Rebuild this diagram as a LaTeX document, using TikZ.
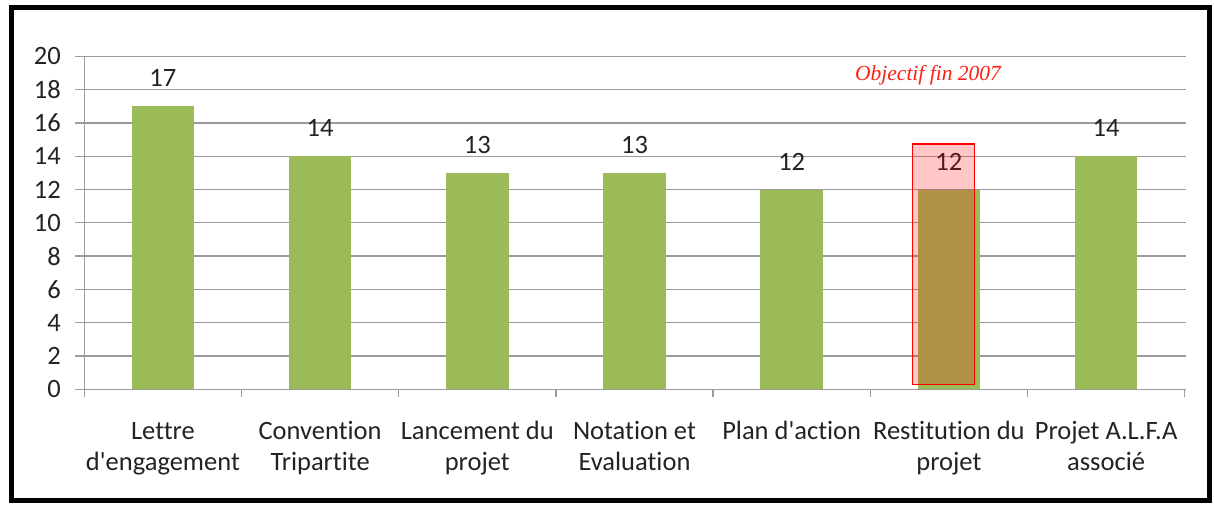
\documentclass[tikz,border=0pt]{standalone}
\usepackage{fontspec}
\setmainfont{Carlito}[Ligatures={TeXOff,NoCommon}]
\newfontfamily\tnr{Liberation Serif}
\definecolor{bargreen}{RGB}{155,187,89}
\definecolor{gridgray}{RGB}{155,155,155}
\definecolor{txt}{RGB}{35,35,35}
\definecolor{objred}{RGB}{255,30,20}
\begin{document}
\begin{tikzpicture}[x=1pt,y=-1pt,
  gridline/.style={draw=gridgray,line width=1.3pt},
  barfill/.style={fill=bargreen,draw=none},
  lab/.style={font=\fontsize{26.5}{31.6}\selectfont,text=txt,inner sep=0pt},
  catlab/.style={lab,align=center,anchor=base},
  frame/.style={draw=black,line width=5pt}]
\useasboundingbox (0,0) rectangle (1214,504);
% gridlines and y labels
\foreach \v in {0,2,...,20}{
  \draw[gridline] (75,{389.3-16.65*\v}) -- (1186,{389.3-16.65*\v});
  \node[lab,anchor=east] (y\v) at (61,{389.3-16.65*\v}) {\v};
}
% axes
\draw[gridline] (84.3,56) -- (84.3,397);
\foreach \k in {1,...,7}{
  \draw[gridline] ({84.3+157.2*\k},389.3) -- ({84.3+157.2*\k},397);
}
% bars and value labels
\foreach \k/\v in {1/17,2/14,3/13,4/13,5/12,6/12,7/14}{
  \fill[barfill] ({84.3+157.2*(\k-0.5)-31.3},389.3) rectangle ({84.3+157.2*(\k-0.5)+31.3},{389.3-16.65*\v});
  \node[lab] (v\k) at ({84.3+157.2*(\k-0.5)},{389.3-16.65*\v-28}) {\v};
}
% category labels (base = baseline of last line)
\node[catlab] (c1) at ({84.3+157.2*0.5},470.7) {Lettre\\d'engagement};
\node[catlab] (c2) at ({84.3+157.2*1.5},470.7) {Convention\\Tripartite};
\node[catlab] (c3) at ({84.3+157.2*2.5},470.7) {Lancement du\\projet};
\node[catlab] (c4) at ({84.3+157.2*3.5},470.7) {Notation et\\Evaluation};
\node[catlab] (c5) at ({84.3+157.2*4.5},439.3) {Plan d'action};
\node[catlab] (c6) at ({84.3+157.2*5.5},470.7) {Restitution du\\projet};
\node[catlab] (c7) at ({84.3+157.2*6.5},470.7) {Projet A.L.F.A\\associé};
% objective highlight
\draw[draw=red,line width=1.3pt,fill=red,fill opacity=0.22] (912.3,144) rectangle (974.7,384.3);
\node[inner sep=0pt,anchor=base,text=objred,font=\tnr\itshape\fontsize{21.5}{24}\selectfont] (obj) at (928,80) {Objectif fin 2007};
% frame
\draw[frame] (11.5,7.5) rectangle (1209.5,500);
\end{tikzpicture}
\end{document}
